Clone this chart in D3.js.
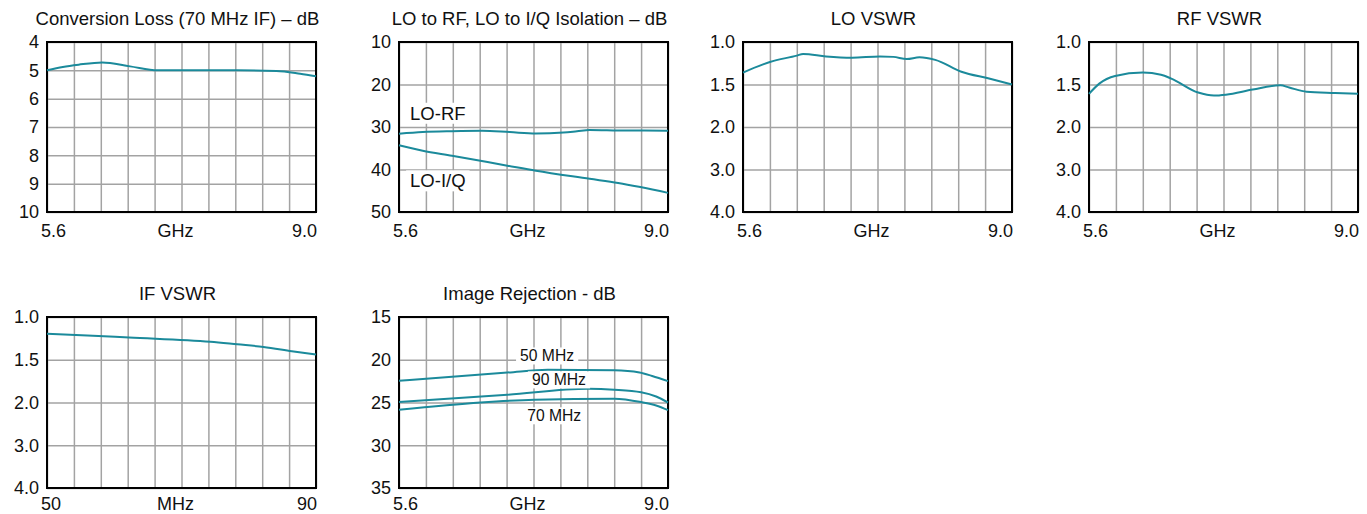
<!DOCTYPE html>
<html>
<head>
<meta charset="utf-8">
<script src="https://cdn.jsdelivr.net/npm/d3@7"></script>
<style>
  body { margin: 0; background: #fff; }
  svg { display: block; font-family: "Liberation Sans", Arial, sans-serif; }
  .grid line { stroke: #a3a3a3; stroke-width: 1.5; }
  .grid path { display: none; }
  .ylab text { font-size: 18px; fill: #111; }
  .title { font-size: 18.5px; fill: #111; }
  .xlab { font-size: 18px; fill: #111; }
  .curve { fill: none; stroke: #1b8a9b; stroke-width: 2; }
  .note { font-size: 18.5px; fill: #111; }
  .note.small { font-size: 15.7px; }
</style>
</head>
<body>
<div id="chart"></div>
<script>
/* Mixer datasheet curves: six small panels, teal lines on a grey grid. */

// Conversion loss vs LO frequency (GHz)
const CL_FREQ = [5.6, 5.8, 6.0, 6.3, 6.65, 7.0, 7.5, 8.0, 8.5, 8.8, 9.0];
const CL_DB   = [5.0, 4.88, 4.8, 4.72, 4.86, 5.0, 5.0, 5.0, 5.02, 5.12, 5.21];

// isolation
const LORF_FREQ = [5.6, 5.9, 6.27, 6.65, 7.0, 7.33, 7.68, 7.85, 8.01, 8.37, 8.7, 9.0];
const LORF_DB   = [31.6, 31.2, 31.0, 30.9, 31.2, 31.5, 31.3, 31.0, 30.7, 30.8, 30.85, 30.9];
const LOIQ_FREQ = [5.6, 5.9, 6.27, 6.97, 7.33, 8.01, 8.37, 9.0];
const LOIQ_DB   = [34.3, 35.6, 36.75, 39.1, 40.3, 42.2, 43.2, 45.5];

// VSWR curves
const LOV_FREQ = [5.6, 5.94, 6.28, 6.36, 6.65, 6.98, 7.33, 7.5, 7.67, 7.83, 8.03, 8.36, 8.71, 9.0];
const LOV_VAL  = [1.36, 1.235, 1.16, 1.14, 1.17, 1.185, 1.17, 1.175, 1.20, 1.18, 1.21, 1.35, 1.43, 1.5];
const RFV_FREQ = [5.6, 5.73, 5.93, 6.28, 6.51, 6.64, 6.98, 7.18, 7.33, 7.67, 8.02, 8.13, 8.35, 8.71, 9.0];
const RFV_VAL  = [1.61, 1.49, 1.40, 1.36, 1.385, 1.43, 1.595, 1.63, 1.62, 1.56, 1.51, 1.535, 1.585, 1.60, 1.61];
const IFV_MHZ  = [50, 56, 62.2, 74.3, 78.3, 82.2, 86.4, 90];
const IFV_VAL  = [1.195, 1.215, 1.24, 1.29, 1.32, 1.35, 1.40, 1.44];

// image rejection at three IFs
const IR50_FREQ = [5.6, 6.97, 7.48, 8.32, 8.64, 8.8, 9.0];
const IR50_DB   = [22.45, 21.5, 21.16, 21.24, 21.5, 21.9, 22.5];
const IR90_FREQ = [5.6, 6.97, 7.99, 8.32, 8.66, 8.85, 9.0];
const IR90_DB   = [24.95, 24.1, 23.4, 23.5, 23.8, 24.3, 25.0];
const IR70_FREQ = [5.6, 6.63, 7.31, 8.32, 8.66, 8.85, 9.0];
const IR70_DB   = [25.85, 25.0, 24.67, 24.55, 24.95, 25.35, 25.9];

// tick labels
const GHZ_RANGE   = [5.6, 9.0];
const MHZ_RANGE   = [50, 90];
const CL_TICKS    = [4, 5, 6, 7, 8, 9, 10];
const ISO_TICKS   = [10, 20, 30, 40, 50];
const VSWR_TICKS  = [1.0, 1.5, 2.0, 3.0, 4.0];
const IR_TICKS    = [15, 20, 25, 30, 35];

const zip = (xs, ys) => xs.map((x, i) => [x, ys[i]]);

const W = 1367, H = 514;
const COLS = [47, 399, 743, 1089], ROWS = [42, 317];
const PW = 269, PH = [170, 171];
const XLAB_GAP = [24.5, 21.5];   // bottom row sits right at the page edge

const svg = d3.select("#chart").append("svg")
    .attr("width", W).attr("height", H);

function panel(o){
  const w = PW, h = PH[o.row];
  const g = svg.append("g").attr("transform", `translate(${COLS[o.col]},${ROWS[o.row]})`);

  const x = d3.scaleLinear().domain(o.xRange).range([0, w]);
  // ticks are equally spaced on the page, even when the values are not (VSWR)
  const y = d3.scaleLinear().domain(o.yTicks)
      .range(o.yTicks.map((d, i) => i * h / (o.yTicks.length - 1)));

  // ten vertical divisions
  const step = (o.xRange[1] - o.xRange[0]) / 10;
  g.append("g").attr("class", "grid")
      .attr("transform", `translate(0,${h})`)
      .call(d3.axisBottom(x).tickValues(d3.range(11).map(i => o.xRange[0] + i * step))
        .tickSize(-h).tickFormat(""));

  g.append("g").attr("class", "grid ylab")
      .call(d3.axisLeft(y).tickValues(o.yTicks).tickSize(-w).tickPadding(8)
        .tickFormat(o.yFmt));

  g.append("rect").attr("width", w).attr("height", h)
      .attr("fill", "none").attr("stroke", "#000").attr("stroke-width", 2);

  const line = d3.line().x(d => x(d[0])).y(d => y(d[1])).curve(d3.curveMonotoneX);
  o.series.forEach(s => g.append("path").attr("class", "curve").attr("d", line(s)));

  // curve names sit on a white patch that hides the grid
  (o.notes || []).forEach(n => {
    const t = g.append("text").attr("class", "note" + (n.small ? " small" : ""))
        .attr("x", x(n.at[0])).attr("y", y(n.at[1])).text(n.text);
    const b = t.node().getBBox();
    g.insert("rect", "text.note")
        .attr("x", b.x - 4).attr("y", b.y).attr("width", b.width + 8).attr("height", b.height)
        .attr("fill", "#fff");
  });

  g.append("text").attr("class", "title")
      .attr("x", w / 2 - 4).attr("y", -17).attr("text-anchor", "middle").text(o.title);

  const fx = o.xFmt || (d => d);
  const ly = h + XLAB_GAP[o.row];
  g.append("text").attr("class", "xlab").attr("x", x(o.xRange[0]) - 6).attr("y", ly)
      .text(fx(o.xRange[0]));
  g.append("text").attr("class", "xlab").attr("x", w / 2 - 6).attr("y", ly)
      .attr("text-anchor", "middle").text(o.unit);
  g.append("text").attr("class", "xlab").attr("x", x(o.xRange[1]) + 1).attr("y", ly)
      .attr("text-anchor", "end").text(fx(o.xRange[1]));
}

const f1 = d3.format(".1f");

panel({ col: 0, row: 0, title: "Conversion Loss (70 MHz IF) – dB",
  xRange: GHZ_RANGE, xFmt: f1, unit: "GHz", yTicks: CL_TICKS, yFmt: d3.format("d"),
  series: [zip(CL_FREQ, CL_DB)] });

panel({ col: 1, row: 0, title: "LO to RF, LO to I/Q Isolation – dB",
  xRange: GHZ_RANGE, xFmt: f1, unit: "GHz", yTicks: ISO_TICKS, yFmt: d3.format("d"),
  series: [zip(LORF_FREQ, LORF_DB), zip(LOIQ_FREQ, LOIQ_DB)],
  notes: [{ text: "LO-RF", at: [5.74, 28.3] }, { text: "LO-I/Q", at: [5.74, 44.2] }] });

panel({ col: 2, row: 0, title: "LO VSWR",
  xRange: GHZ_RANGE, xFmt: f1, unit: "GHz", yTicks: VSWR_TICKS, yFmt: f1,
  series: [zip(LOV_FREQ, LOV_VAL)] });

panel({ col: 3, row: 0, title: "RF VSWR",
  xRange: GHZ_RANGE, xFmt: f1, unit: "GHz", yTicks: VSWR_TICKS, yFmt: f1,
  series: [zip(RFV_FREQ, RFV_VAL)] });

panel({ col: 0, row: 1, title: "IF VSWR",
  xRange: MHZ_RANGE, unit: "MHz", yTicks: VSWR_TICKS, yFmt: f1,
  series: [zip(IFV_MHZ, IFV_VAL)] });

panel({ col: 1, row: 1, title: "Image Rejection - dB",
  xRange: GHZ_RANGE, xFmt: f1, unit: "GHz", yTicks: IR_TICKS, yFmt: d3.format("d"),
  series: [zip(IR50_FREQ, IR50_DB), zip(IR90_FREQ, IR90_DB), zip(IR70_FREQ, IR70_DB)],
  notes: [{ text: "50 MHz", at: [7.13, 20.2], small: true },
          { text: "90 MHz", at: [7.28, 23.0], small: true },
          { text: "70 MHz", at: [7.22, 27.2], small: true }] });
</script>
</body>
</html>
